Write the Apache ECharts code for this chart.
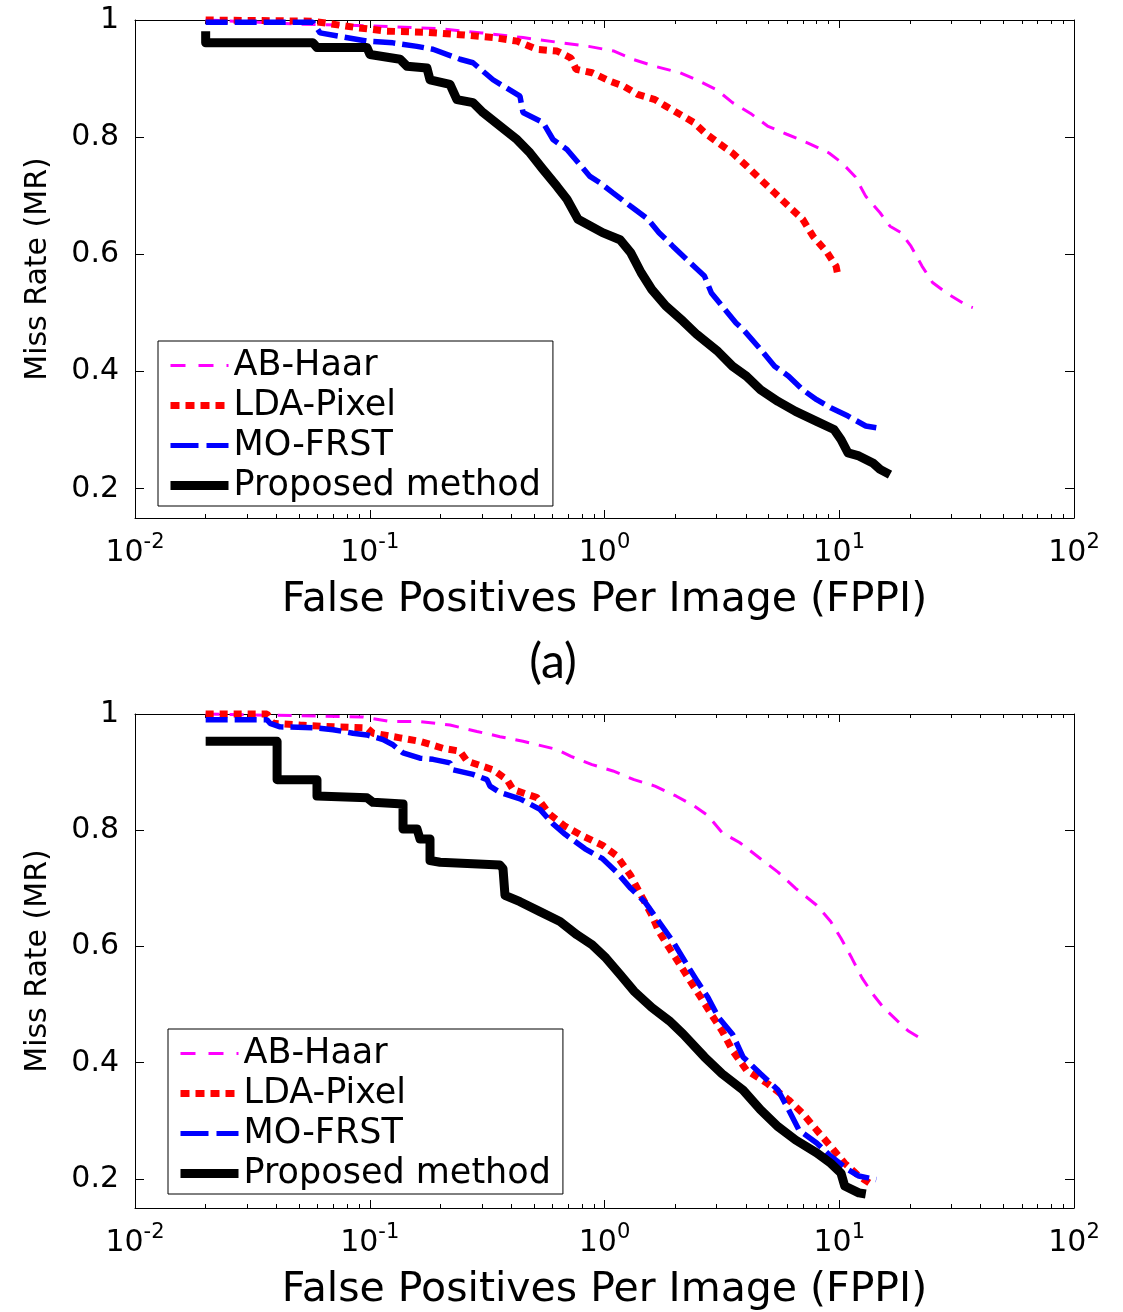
<!DOCTYPE html>
<html><head><meta charset="utf-8">
<script src="https://cdn.jsdelivr.net/npm/echarts@6/dist/echarts.min.js"></script>
<style>html,body{margin:0;padding:0;background:#fff}#c{width:1123px;height:1312px}</style>
</head><body><div id="c"></div>
<script>
const seriesNames = ['AB-Haar', 'LDA-Pixel', 'MO-FRST', 'Proposed method'];
const xAxisTitle = 'False Positives Per Image (FPPI)';
const yAxisTitle = 'Miss Rate (MR)';
const captionA = '(a)';
const xTickExponents = [-2, -1, 0, 1, 2];
const yTickValues = [0.2, 0.4, 0.6, 0.8, 1];

// ---- panel (a) ----
const a_abHaar_x = [0.02, 0.05, 0.1, 0.2, 0.3, 0.45, 0.659, 0.856, 1.098, 1.316, 1.641, 2.097, 2.527, 3.006, 3.51, 4.242, 4.948, 5.979, 7.361, 9.044, 10.27, 11.67, 12.97, 14.92, 16.45, 18.32, 20.21, 22.51, 24.96, 28.64, 35.18, 37.06];
const a_abHaar_y = [1.0, 0.993, 0.99, 0.985, 0.978, 0.97, 0.961, 0.955, 0.947, 0.933, 0.921, 0.910, 0.896, 0.881, 0.859, 0.839, 0.819, 0.805, 0.790, 0.773, 0.756, 0.733, 0.699, 0.671, 0.648, 0.637, 0.614, 0.580, 0.552, 0.534, 0.512, 0.509];
const a_lda_x = [0.02, 0.057, 0.088, 0.118, 0.175, 0.242, 0.335, 0.424, 0.516, 0.628, 0.72, 0.756, 0.885, 1.051, 1.207, 1.385, 1.641, 1.824, 2.093, 2.403, 2.665, 3.057, 3.51, 4.026, 4.619, 5.304, 6.086, 6.982, 7.731, 8.887, 9.687, 9.85];
const a_lda_y = [1.0, 0.998, 0.987, 0.981, 0.979, 0.975, 0.970, 0.964, 0.950, 0.947, 0.935, 0.916, 0.910, 0.896, 0.887, 0.873, 0.864, 0.853, 0.839, 0.825, 0.808, 0.790, 0.773, 0.751, 0.728, 0.705, 0.682, 0.660, 0.631, 0.603, 0.580, 0.566];
const a_mo_x = [0.02, 0.0573, 0.0614, 0.0973, 0.1256, 0.159, 0.186, 0.2424, 0.2753, 0.335, 0.4365, 0.4495, 0.547, 0.6035, 0.692, 0.867, 0.957, 1.087, 1.293, 1.532, 1.707, 1.954, 2.313, 2.665, 2.853, 3.166, 3.633, 3.89, 4.619, 5.304, 6.086, 6.982, 8.014, 9.196, 10.9, 12.97, 14.38];
const a_mo_y = [0.996, 0.996, 0.978, 0.964, 0.961, 0.955, 0.950, 0.933, 0.927, 0.898, 0.870, 0.842, 0.825, 0.796, 0.779, 0.733, 0.722, 0.705, 0.682, 0.660, 0.637, 0.614, 0.586, 0.563, 0.534, 0.512, 0.483, 0.472, 0.438, 0.409, 0.392, 0.369, 0.352, 0.338, 0.324, 0.307, 0.304];
const a_prop_x = [0.02, 0.02, 0.0573, 0.0596, 0.0973, 0.1002, 0.1346, 0.1441, 0.1753, 0.1806, 0.2197, 0.2352, 0.2753, 0.3037, 0.3587, 0.424, 0.4816, 0.547, 0.6276, 0.692, 0.771, 0.9815, 1.164, 1.293, 1.431, 1.59, 1.824, 2.16, 2.477, 3.045, 3.51, 4.026, 4.619, 5.484, 6.518, 8.014, 9.497, 10.17, 10.9, 12.12, 13.9, 14.92, 16.45];
const a_prop_y = [0.981, 0.961, 0.961, 0.953, 0.953, 0.941, 0.933, 0.921, 0.918, 0.898, 0.890, 0.864, 0.859, 0.842, 0.819, 0.796, 0.773, 0.745, 0.716, 0.694, 0.660, 0.637, 0.625, 0.603, 0.569, 0.540, 0.512, 0.486, 0.463, 0.434, 0.409, 0.392, 0.369, 0.349, 0.332, 0.315, 0.301, 0.284, 0.261, 0.256, 0.244, 0.233, 0.224];

// ---- panel (b) ----
const b_abHaar_x = [0.02, 0.0936, 0.122, 0.1637, 0.2197, 0.2862, 0.3587, 0.4495, 0.628, 0.72, 0.885, 1.087, 1.336, 1.641, 2.016, 2.406, 2.76, 3.166, 3.76, 4.619, 5.484, 6.518, 8.014, 9.196, 10.17, 11.31, 12.5, 13.9, 15.41, 17.69, 19.63, 21.74];
const b_abHaar_y = [1.0, 0.995, 0.987, 0.987, 0.981, 0.970, 0.961, 0.953, 0.939, 0.927, 0.913, 0.902, 0.887, 0.876, 0.859, 0.842, 0.825, 0.796, 0.779, 0.751, 0.728, 0.700, 0.671, 0.643, 0.614, 0.580, 0.546, 0.518, 0.495, 0.472, 0.455, 0.444];
const b_lda_x = [0.02, 0.0365, 0.0387, 0.0505, 0.0698, 0.0973, 0.1032, 0.1346, 0.1637, 0.2051, 0.2424, 0.2597, 0.335, 0.3843, 0.4077, 0.516, 0.5858, 0.6723, 0.799, 0.9815, 1.127, 1.293, 1.431, 1.59, 1.703, 1.888, 2.093, 2.322, 2.575, 2.853, 3.166, 3.51, 4.026, 4.948, 6.086, 6.982, 8.014, 9.196, 10.55, 12.12, 13.43];
const b_lda_y = [1.0, 1.0, 0.984, 0.981, 0.978, 0.976, 0.967, 0.959, 0.953, 0.941, 0.936, 0.919, 0.904, 0.887, 0.870, 0.856, 0.827, 0.808, 0.791, 0.774, 0.756, 0.722, 0.688, 0.654, 0.626, 0.597, 0.569, 0.540, 0.512, 0.483, 0.455, 0.421, 0.387, 0.364, 0.336, 0.313, 0.284, 0.256, 0.227, 0.205, 0.193];
const b_mo_x = [0.02, 0.0365, 0.0376, 0.0415, 0.0596, 0.0698, 0.0848, 0.0973, 0.1139, 0.1256, 0.1386, 0.1637, 0.186, 0.2197, 0.2263, 0.2753, 0.3158, 0.3252, 0.3587, 0.4365, 0.531, 0.6035, 0.68, 0.826, 0.9815, 1.127, 1.293, 1.483, 1.703, 1.954, 2.242, 2.487, 2.76, 3.057, 3.51, 3.89, 4.619, 5.484, 6.086, 6.737, 8.014, 9.196, 10.9, 12.12, 14.38];
const b_mo_y = [0.990, 0.990, 0.984, 0.978, 0.976, 0.973, 0.967, 0.964, 0.956, 0.947, 0.933, 0.924, 0.922, 0.916, 0.904, 0.896, 0.887, 0.876, 0.865, 0.854, 0.836, 0.811, 0.793, 0.768, 0.751, 0.728, 0.700, 0.677, 0.643, 0.609, 0.569, 0.540, 0.512, 0.478, 0.449, 0.410, 0.381, 0.353, 0.319, 0.284, 0.262, 0.239, 0.216, 0.205, 0.199];
const b_prop_x = [0.02, 0.0403, 0.0403, 0.0596, 0.0596, 0.0973, 0.1032, 0.1386, 0.1386, 0.159, 0.1637, 0.1806, 0.1806, 0.1993, 0.3587, 0.3695, 0.3768, 0.4365, 0.531, 0.6463, 0.7634, 0.885, 1.015, 1.164, 1.336, 1.59, 1.888, 2.166, 2.665, 3.166, 3.89, 4.619, 5.484, 6.518, 8.014, 9.196, 10.17, 10.55, 12.12, 12.97];
const b_prop_y = [0.953, 0.953, 0.887, 0.887, 0.859, 0.856, 0.848, 0.845, 0.802, 0.802, 0.785, 0.785, 0.748, 0.745, 0.740, 0.734, 0.688, 0.677, 0.660, 0.643, 0.620, 0.603, 0.580, 0.552, 0.523, 0.495, 0.472, 0.449, 0.410, 0.381, 0.353, 0.319, 0.290, 0.267, 0.245, 0.227, 0.210, 0.188, 0.176, 0.174];

const panels = [
  { xs: [a_abHaar_x, a_lda_x, a_mo_x, a_prop_x], ys: [a_abHaar_y, a_lda_y, a_mo_y, a_prop_y] },
  { xs: [b_abHaar_x, b_lda_x, b_mo_x, b_prop_x], ys: [b_abHaar_y, b_lda_y, b_mo_y, b_prop_y] }
];

// styles (not data)
const colors = ['#ff00ff', '#ff0000', '#0000ff', '#000000'];
const lineStyles = [
  { color: colors[0], width: 3, type: [14, 10], cap: 'butt' },
  { color: colors[1], width: 7, type: [8, 6], cap: 'butt' },
  { color: colors[2], width: 5.5, type: [22, 7], cap: 'butt' },
  { color: colors[3], width: 9, type: 'solid', cap: 'butt', join: 'round' }
];
const legendLineStyles = [
  { color: colors[0], width: 3, type: [15, 13], cap: 'butt' },
  { color: colors[1], width: 7, type: [9, 6], cap: 'butt' },
  { color: colors[2], width: 5, type: [28, 8], cap: 'butt' },
  { color: colors[3], width: 9, type: 'solid', cap: 'butt' }
];
const grids = [
  { left: 135, top: 20, width: 939, height: 498 },
  { left: 135, top: 714, width: 939, height: 497 }
];
const legendPos = [{ left: 158, top: 341 }, { left: 168, top: 1029 }];

const FONT = 'DejaVu Sans';
const minorTicks = [];
for (let d = -2; d < 2; d++) for (let m = 2; m <= 9; m++) minorTicks.push(d + Math.log10(m));

const xAxes = [], yAxes = [], series = [], legends = [];
grids.forEach((g, gi) => {
  const common = { gridIndex: gi, splitLine: { show: false } };
  xAxes.push(Object.assign({}, common, {
    type: 'log', logBase: 10, min: 0.01, max: 100, position: 'bottom',
    axisLine: { onZero: false, lineStyle: { color: '#000', width: 1 } },
    axisTick: { inside: true, length: 8, lineStyle: { color: '#000' } },
    axisLabel: {
      margin: 14,
      formatter: v => '{b|10}{s|' + Math.round(Math.log10(v)) + '}',
      rich: {
        b: { fontFamily: FONT, fontSize: 30, color: '#000', verticalAlign: 'bottom', lineHeight: 36 },
        s: { fontFamily: FONT, fontSize: 21, color: '#000', verticalAlign: 'top', lineHeight: 20 }
      }
    },
    name: xAxisTitle, nameLocation: 'middle', nameGap: 62,
    nameTextStyle: { fontFamily: FONT, fontSize: 41, color: '#000' }
  }));
  xAxes.push(Object.assign({}, common, {
    type: 'log', logBase: 10, min: 0.01, max: 100, position: 'top',
    axisLine: { onZero: false, lineStyle: { color: '#000', width: 1 } },
    axisTick: { inside: true, length: 8, lineStyle: { color: '#000' } },
    axisLabel: { show: false }
  }));
  xAxes.push(Object.assign({}, common, {
    type: 'value', min: -2, max: 2, position: 'bottom',
    axisLine: { show: false, onZero: false },
    axisTick: { inside: true, length: 4, customValues: minorTicks, lineStyle: { color: '#000' } },
    axisLabel: { show: false }
  }));
  xAxes.push(Object.assign({}, common, {
    type: 'value', min: -2, max: 2, position: 'top',
    axisLine: { show: false, onZero: false },
    axisTick: { inside: true, length: 4, customValues: minorTicks, lineStyle: { color: '#000' } },
    axisLabel: { show: false }
  }));
  yAxes.push(Object.assign({}, common, {
    type: 'value', min: 0.15, max: 1, position: 'left',
    axisLine: { show: true, onZero: false, lineStyle: { color: '#000', width: 1 } },
    axisTick: { show: true, inside: true, length: 9, customValues: yTickValues, lineStyle: { color: '#000' } },
    axisLabel: {
      customValues: yTickValues, margin: 16,
      formatter: v => (Math.abs(v - 1) < 1e-9 ? '1' : v.toFixed(1)),
      fontFamily: FONT, fontSize: 30, color: '#000'
    },
    name: yAxisTitle, nameLocation: 'middle', nameGap: 82, nameRotate: 90,
    nameTextStyle: { fontFamily: FONT, fontSize: 30, color: '#000' }
  }));
  yAxes.push(Object.assign({}, common, {
    type: 'value', min: 0.15, max: 1, position: 'right',
    axisLine: { show: true, onZero: false, lineStyle: { color: '#000', width: 1 } },
    axisTick: { show: true, inside: true, length: 9, customValues: yTickValues, lineStyle: { color: '#000' } },
    axisLabel: { show: false }
  }));
  const p = panels[gi];
  seriesNames.forEach((name, si) => {
    series.push({
      type: 'line', name: name, xAxisIndex: gi * 4, yAxisIndex: gi * 2,
      data: p.xs[si].map((x, i) => [x, p.ys[si][i]]),
      symbol: 'none', clip: false, animation: false, z: 2 + si,
      itemStyle: { color: colors[si] },
      lineStyle: lineStyles[si]
    });
  });
  legends.push({
    show: true,
    orient: 'vertical', left: legendPos[gi].left, top: legendPos[gi].top,
    padding: [7, 12, 3, 8], itemGap: 5, itemWidth: 58, itemHeight: 14,
    borderColor: '#000', borderWidth: 1, backgroundColor: '#fff', selectedMode: false,
    textStyle: { fontFamily: FONT, fontSize: 35, color: '#000', lineHeight: 34 },
    data: seriesNames.map((n, si) => ({
      name: n, lineStyle: legendLineStyles[si],
      itemStyle: { color: 'rgba(0,0,0,0)', opacity: 0, borderWidth: 0 }
    })),
    z: 10
  });
});

const chart = echarts.init(document.getElementById('c'));
chart.setOption({
  animation: false,
  backgroundColor: '#fff',
  grid: grids,
  xAxis: xAxes,
  yAxis: yAxes,
  legend: legends,
  series: series,
  graphic: [{
    type: 'text', x: 553, y: 663,
    style: { text: captionA, fontFamily: 'Lato', fontSize: 48, fill: '#000', align: 'center', verticalAlign: 'middle' }
  }]
});
</script>
</body></html>
